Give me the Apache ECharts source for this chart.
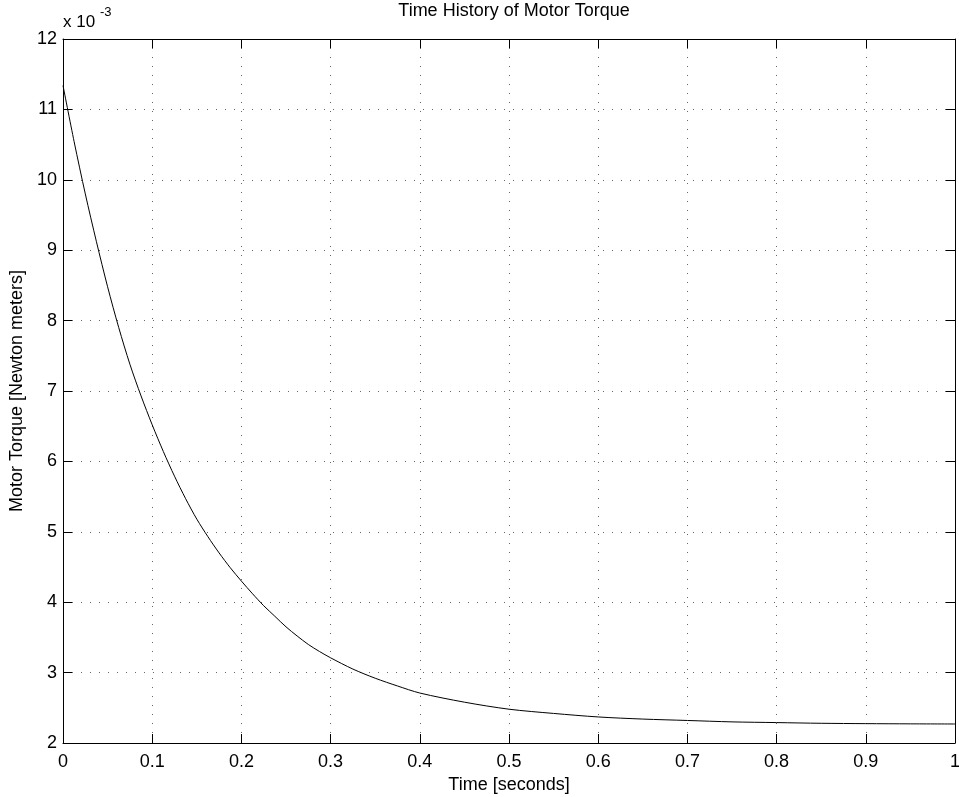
<!DOCTYPE html>
<html>
<head>
<meta charset="utf-8">
<script src="https://cdn.jsdelivr.net/npm/echarts@6/dist/echarts.min.js"></script>
<style>html,body{margin:0;padding:0;background:#fff;}#c{width:959px;height:797px;}</style>
</head>
<body>
<div id="c"></div>
<script>
// Time [seconds]
var timeSec = [0, 0.0125, 0.025, 0.0375, 0.05, 0.0625, 0.075, 0.0875, 0.1, 0.1125, 0.125, 0.1375, 0.15, 0.1625, 0.175, 0.1875, 0.2, 0.2125, 0.225, 0.2375, 0.25, 0.2625, 0.275, 0.2875, 0.3, 0.325, 0.35, 0.375, 0.4, 0.45, 0.5, 0.55, 0.6, 0.65, 0.7, 0.75, 0.8, 0.85, 0.9, 0.95, 1.0];
// Motor torque, in units of 1e-3 N·m
var torque = [11.34, 10.54, 9.80, 9.12, 8.48, 7.90, 7.38, 6.93, 6.52, 6.14, 5.79, 5.47, 5.18, 4.93, 4.70, 4.49, 4.30, 4.12, 3.95, 3.80, 3.65, 3.52, 3.40, 3.30, 3.21, 3.05, 2.92, 2.81, 2.71, 2.58, 2.48, 2.42, 2.37, 2.34, 2.32, 2.30, 2.29, 2.28, 2.275, 2.272, 2.27];
var titleText = 'Time History of Motor Torque';
var xName = 'Time [seconds]';
var yName = 'Motor Torque [Newton meters]';

var FONT = "'Liberation Sans', Arial, Helvetica, sans-serif";
var FS = 18;
var data = timeSec.map(function (t, i) { return [t, torque[i]]; });

var gridLine = { show: true, lineStyle: { color: '#666', width: 1, type: [1, 8] } };
var axisLineStyle = { show: true, onZero: false, lineStyle: { color: '#000', width: 1 } };
var tickStyle = { show: true, inside: true, length: 9, lineStyle: { color: '#000', width: 1 } };

var chart = echarts.init(document.getElementById('c'), null, { renderer: 'canvas' });
chart.setOption({
  animation: false,
  backgroundColor: '#fff',
  title: {
    text: titleText, left: 509, top: -3, textAlign: 'center',
    textStyle: { fontFamily: FONT, fontSize: FS, fontWeight: 'normal', color: '#000' }
  },
  grid: { left: 63, right: 4, top: 39, bottom: 54, containLabel: false, outerBoundsMode: 'none' },
  xAxis: [{
    type: 'value', min: 0, max: 1, interval: 0.1, position: 'bottom',
    name: xName, nameLocation: 'middle', nameGap: 32,
    nameTextStyle: { fontFamily: FONT, fontSize: FS, color: '#000' },
    axisLine: axisLineStyle, axisTick: tickStyle, splitLine: gridLine,
    axisLabel: { fontFamily: FONT, fontSize: FS, color: '#000', margin: 10,
      formatter: function (v) { return String(Math.round(v * 10) / 10); } }
  }, {
    type: 'value', min: 0, max: 1, interval: 0.1, position: 'top',
    axisLine: axisLineStyle, axisTick: tickStyle, splitLine: { show: false },
    axisLabel: { show: false }
  }],
  yAxis: [{
    type: 'value', min: 2, max: 12, interval: 1, position: 'left',
    name: yName, nameLocation: 'middle', nameGap: 36, nameRotate: 90,
    nameTextStyle: { fontFamily: FONT, fontSize: FS, color: '#000' },
    axisLine: axisLineStyle, axisTick: tickStyle, splitLine: gridLine,
    axisLabel: { fontFamily: FONT, fontSize: FS, color: '#000', margin: 6 }
  }, {
    type: 'value', min: 2, max: 12, interval: 1, position: 'right',
    axisLine: axisLineStyle, axisTick: tickStyle, splitLine: { show: false },
    axisLabel: { show: false }
  }],
  graphic: [
    { type: 'text', left: 63, top: 14, style: { text: 'x 10', fontFamily: FONT, fontSize: 17, fill: '#000' } },
    { type: 'text', left: 100, top: 6, style: { text: '-3', fontFamily: FONT, fontSize: 13, fill: '#000' } }
  ],
  series: [{
    type: 'line', data: data, xAxisIndex: 0, yAxisIndex: 0,
    showSymbol: false, smooth: 0.3,
    lineStyle: { color: '#000', width: 1 }, z: 5
  }]
});
</script>
</body>
</html>
